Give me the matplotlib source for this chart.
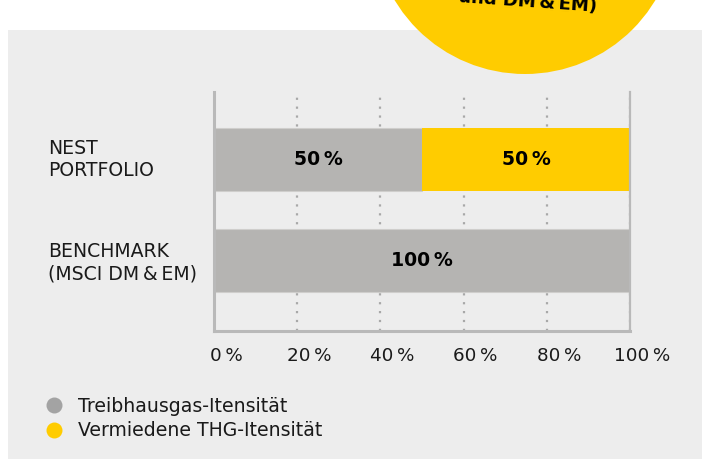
import matplotlib
matplotlib.use("Agg")
import matplotlib.pyplot as plt
from matplotlib.patches import Rectangle, Circle
from matplotlib.lines import Line2D
import matplotlib.transforms as mtransforms

# ---- data ----
categories = ["NEST\nPORTFOLIO", "BENCHMARK\n(MSCI DM\u2009&\u2009EM)"]
ghg_intensity = [50, 100]
avoided_intensity = [50, 0]
x_ticks = [0, 20, 40, 60, 80, 100]
x_tick_labels = [f"{t}\u2009%" for t in x_ticks]
legend_labels = ["Treibhausgas-Itensität", "Vermiedene THG-Itensität"]
circle_text = "und DM\u2009&\u2009EM)"

GRAY = "#b5b4b2"
YELLOW = "#ffcc00"
PANEL = "#ededed"
TEXT = "#1a1a1a"
SPINE = "#b9b9b9"

W, H = 702, 459
fig = plt.figure(figsize=(W / 100, H / 100), dpi=100)
fig.patch.set_facecolor("white")
plt.rcParams["font.family"] = ["DejaVu Sans"]

# background axes in pixel coordinates
bg = fig.add_axes([0, 0, 1, 1], zorder=0)
bg.set_xlim(0, W)
bg.set_ylim(H, 0)
bg.axis("off")
bg.add_patch(Rectangle((8, 30), W - 8, H - 30, facecolor=PANEL, edgecolor="none"))
bg.add_patch(Circle((525, -78), 152, facecolor=YELLOW, edgecolor="none"))
bg.text(527, 7, circle_text, ha="center", va="baseline", rotation=-4,
        rotation_mode="anchor", fontsize=13, fontweight="bold", color="black")

# chart axes
ax = fig.add_axes([214 / W, 1 - 331 / H, (630 - 214) / W, (331 - 92) / H], zorder=1)
ax.patch.set_alpha(0)
y = list(range(len(categories)))
b1 = ax.barh(y, ghg_intensity, height=0.63, color=GRAY, edgecolor="#cfcecc",
             linewidth=0.8, zorder=2)
b2 = ax.barh(y, avoided_intensity, left=ghg_intensity, height=0.63, color=YELLOW,
             edgecolor="none", zorder=2)
ax.bar_label(b1, labels=[f"{v}\u2009%" if v else "" for v in ghg_intensity],
             label_type="center", fontsize=13.6, fontweight="bold", color="black")
ax.bar_label(b2, labels=[f"{v}\u2009%" if v else "" for v in avoided_intensity],
             label_type="center", fontsize=13.6, fontweight="bold", color="black")

ax.set_xlim(0, 100)
ax.set_ylim(1.698, -0.668)
ax.set_xticks(x_ticks)
ax.set_xticklabels(x_tick_labels, fontsize=13.2, color=TEXT)
ax.tick_params(axis="x", length=0, pad=11.5)
ax.set_yticks([])
offset = mtransforms.ScaledTranslation(12 / 100, 0, fig.dpi_scale_trans)
for lab in ax.get_xticklabels():
    lab.set_transform(lab.get_transform() + offset)

ax.grid(axis="x", color="#a8a8a8", linestyle=(0, (1, 3)), linewidth=1.6, zorder=1)
ax.set_axisbelow(True)
for s in ["left", "bottom"]:
    ax.spines[s].set_color(SPINE)
    ax.spines[s].set_linewidth(2.2)
ax.spines["right"].set_color(SPINE)
ax.spines["right"].set_linewidth(1.6)
ax.spines["top"].set_visible(False)

# category labels
tr = mtransforms.blended_transform_factory(fig.transFigure, ax.transData)
for yi, cat in zip(y, categories):
    ax.text(48 / W, yi + 0.02 * yi, cat, transform=tr, ha="left", va="center",
            fontsize=13.6, color=TEXT, linespacing=1.25)

# legend
handles = [Line2D([], [], marker="o", linestyle="none", markersize=11.5,
                  markerfacecolor=c, markeredgecolor="none") for c in ["#a3a3a3", YELLOW]]
fig.legend(handles, legend_labels, loc="upper left", bbox_to_anchor=(45 / W, 1 - 397 / H),
           frameon=False, fontsize=13.6, handlelength=1.0, handletextpad=0.75,
           labelspacing=0.28, borderpad=0, borderaxespad=0, labelcolor=TEXT)

fig.savefig("out.png", dpi=100, facecolor=fig.get_facecolor())
